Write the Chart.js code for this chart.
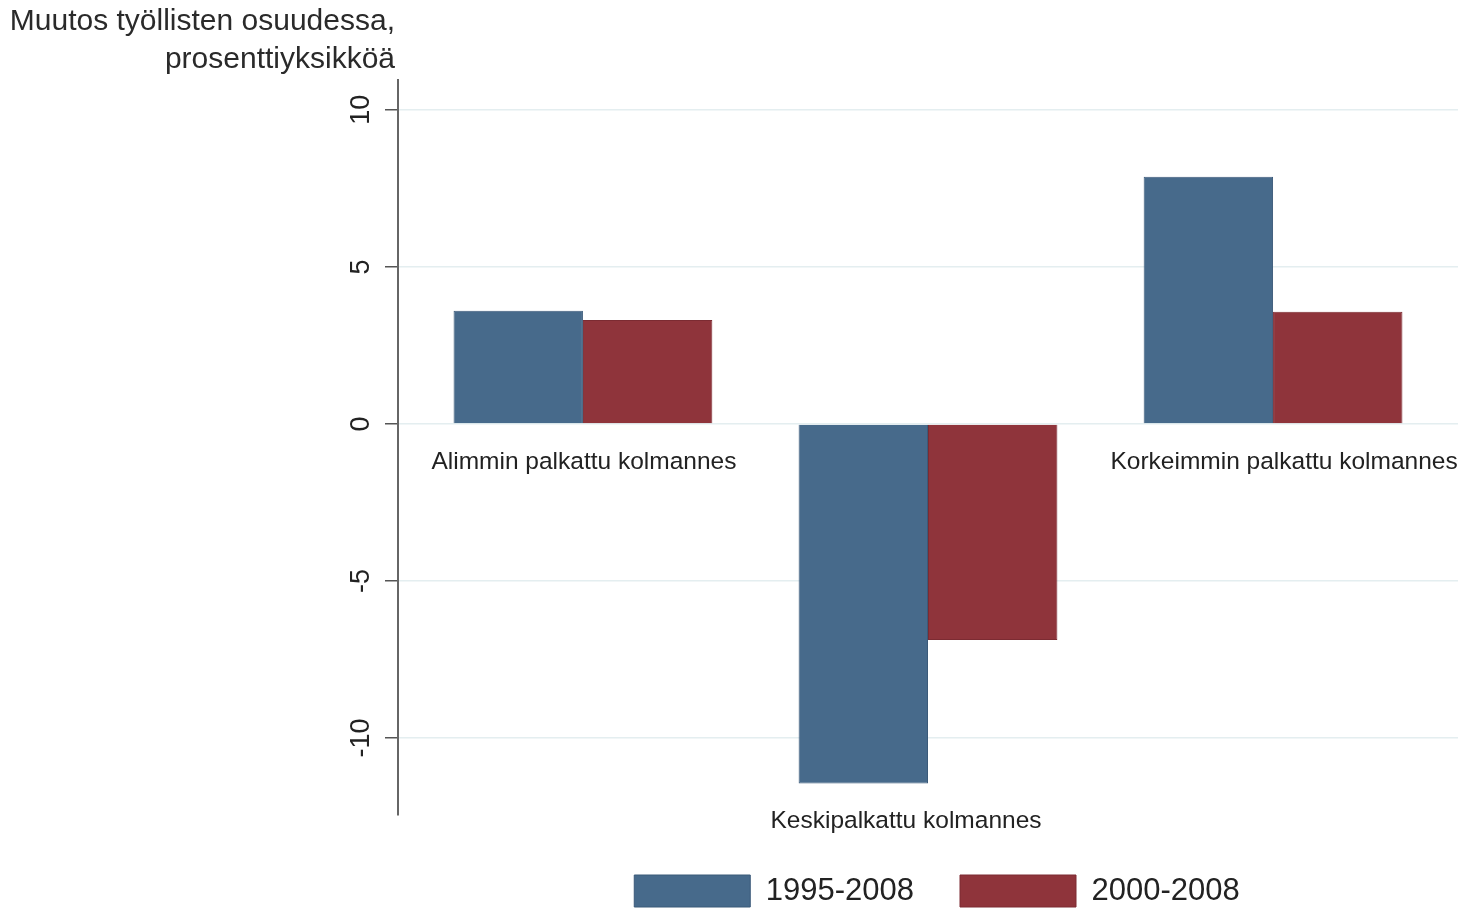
<!DOCTYPE html>
<html lang="fi">
<head>
<meta charset="utf-8">
<title>Muutos työllisten osuudessa</title>
<script src="https://cdn.jsdelivr.net/npm/chart.js@4.4.0/dist/chart.umd.min.js"></script>
<style>
  html, body { margin: 0; padding: 0; background: #fff; }
  #wrap { width: 1463px; height: 909px; }
</style>
</head>
<body>
<div id="wrap"><canvas id="chart" width="1463" height="909"></canvas></div>
<script>
// data
const categories = ['Alimmin palkattu kolmannes', 'Keskipalkattu kolmannes', 'Korkeimmin palkattu kolmannes'];
const series1995 = [3.6, -11.45, 7.87];
const series2000 = [3.31, -6.88, 3.57];
const seriesNames = ['1995-2008', '2000-2008'];
const yTicks = [-10, -5, 0, 5, 10];
const titleLines = ['Muutos työllisten osuudessa,', 'prosenttiyksikköä'];

const FONT = '"Liberation Sans", Arial, sans-serif';

// title, rotated y tick labels and category labels under the bars
const annotations = {
    id: 'annotations',
    afterLayout(chart) {
        // nudge legend a little to the right, as in the original
        chart.legend.left += 9;
        chart.legend.right += 9;
    },
    afterDraw(chart) {
        const { ctx, chartArea, scales: { x, y } } = chart;
        ctx.save();
        ctx.fillStyle = '#2a2a2a';
        ctx.font = `30px ${FONT}`;
        ctx.textAlign = 'right';
        ctx.textBaseline = 'middle';
        ctx.fillText(titleLines[0], chartArea.left - 3, 22);
        ctx.fillText(titleLines[1], chartArea.left - 3, 60);

        ctx.fillStyle = '#222';
        ctx.font = `27px ${FONT}`;
        ctx.textAlign = 'center';
        yTicks.forEach(v => {
            ctx.save();
            ctx.translate(chartArea.left - 36, y.getPixelForValue(v));
            ctx.rotate(-Math.PI / 2);
            ctx.fillText(String(v), 0, 0);
            ctx.restore();
        });

        const shift = [1, -22, 11];
        ctx.font = `24.5px ${FONT}`;
        categories.forEach((name, i) => {
            const low = Math.min(0, series1995[i], series2000[i]);
            ctx.fillText(name, x.getPixelForValue(i) + shift[i], y.getPixelForValue(low) + 38);
        });
        ctx.restore();
    }
};

const toPoints = arr => arr.map((v, i) => ({ x: i, y: v }));

new Chart(document.getElementById('chart'), {
    type: 'bar',
    data: {
        datasets: [
            {
                label: seriesNames[0],
                data: toPoints(series1995),
                backgroundColor: '#476a8b',
                borderColor: '#3b5a79',
                borderWidth: 1
            },
            {
                label: seriesNames[1],
                data: toPoints(series2000),
                backgroundColor: '#8f343b',
                borderColor: '#7c2b32',
                borderWidth: 1
            }
        ]
    },
    options: {
        responsive: false,
        animation: false,
        layout: { padding: { top: 80, left: 0, right: 5, bottom: 0 } },
        datasets: { bar: { categoryPercentage: 0.75, barPercentage: 1 } },
        plugins: {
            tooltip: { enabled: false },
            legend: {
                position: 'bottom',
                fullSize: false,
                maxHeight: 80,
                labels: {
                    boxWidth: 116,
                    boxHeight: 32,
                    padding: 46,
                    color: '#222',
                    font: { family: FONT, size: 31 }
                }
            }
        },
        scales: {
            x: {
                type: 'linear',
                offset: false,
                min: -0.536,
                max: 2.536,
                afterBuildTicks: axis => { axis.ticks = categories.map((c, i) => ({ value: i })); },
                grid: { display: false },
                border: { display: false },
                ticks: { display: false },
                afterFit: axis => { axis.height = 14; }
            },
            y: {
                min: -12.45,
                max: 10.95,
                afterBuildTicks: axis => { axis.ticks = yTicks.map(v => ({ value: v })); },
                ticks: { display: false },
                grid: {
                    color: '#e4eef0',
                    lineWidth: 1.5,
                    drawTicks: true,
                    tickLength: 13,
                    tickColor: '#555',
                    tickWidth: 1.5
                },
                border: { color: '#666', width: 2 },
                afterFit: axis => { axis.width = 398; }
            }
        }
    },
    plugins: [annotations]
});
</script>
</body>
</html>
